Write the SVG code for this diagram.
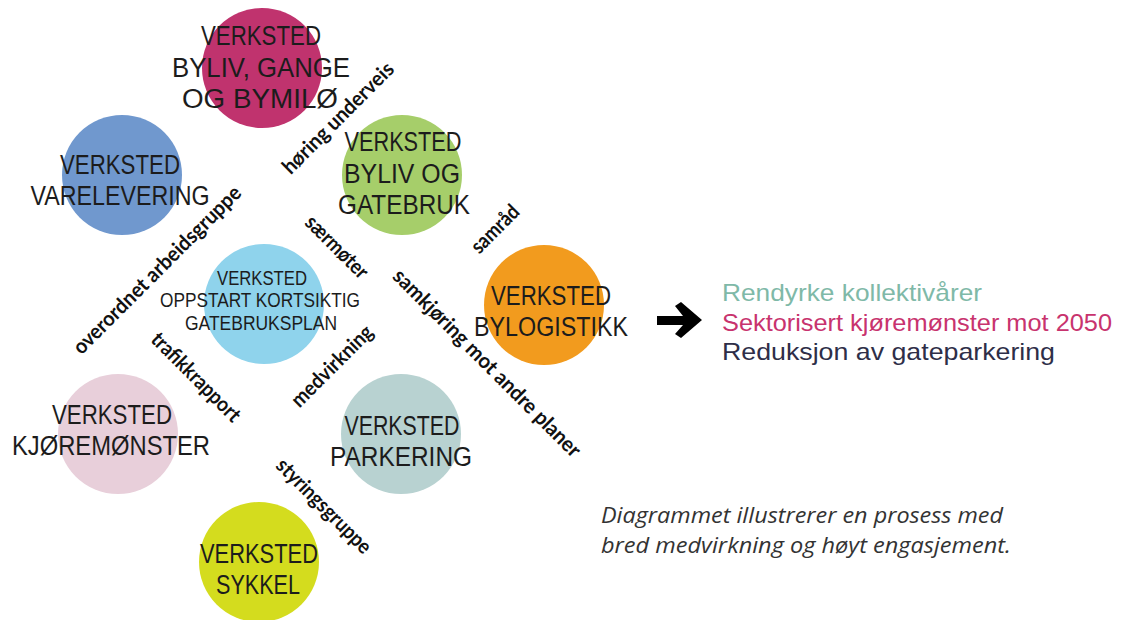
<svg xmlns="http://www.w3.org/2000/svg" width="1123" height="620" viewBox="0 0 1123 620">
<style>
.node-label{font-family:"Liberation Sans",Arial,sans-serif;font-size:27px;fill:#1c1c1c;text-anchor:middle}
.small{font-size:20px}
.link-label{font-family:Lato,"Liberation Sans",Arial,sans-serif;font-weight:bold;font-size:21px;fill:#111;text-anchor:middle}
.goal{font-family:"Liberation Sans",Arial,sans-serif;font-size:24px}
.note{font-family:"Open Sans","Liberation Sans",Arial,sans-serif;font-style:italic;font-size:21px;fill:#333}
</style>
<rect width="1123" height="620" fill="#ffffff"/>

<g id="node-byliv-gange">
<circle cx="262" cy="68" r="60" fill="#C0336E"/>
<text class="node-label" x="261" y="45" textLength="120" lengthAdjust="spacingAndGlyphs">VERKSTED</text>
<text class="node-label" x="261" y="77" textLength="178" lengthAdjust="spacingAndGlyphs">BYLIV, GANGE</text>
<text class="node-label" x="260" y="108" textLength="156" lengthAdjust="spacingAndGlyphs">OG BYMILØ</text>
</g>

<g id="node-varelevering">
<circle cx="122" cy="175" r="60" fill="#7098CE"/>
<text class="node-label" x="120" y="174" textLength="120" lengthAdjust="spacingAndGlyphs">VERKSTED</text>
<text class="node-label" x="120" y="205" textLength="179" lengthAdjust="spacingAndGlyphs">VARELEVERING</text>
</g>

<g id="node-byliv-gatebruk">
<circle cx="402" cy="175" r="60" fill="#A6CE6A"/>
<text class="node-label" x="403" y="151" textLength="117" lengthAdjust="spacingAndGlyphs">VERKSTED</text>
<text class="node-label" x="402" y="183" textLength="116" lengthAdjust="spacingAndGlyphs">BYLIV OG</text>
<text class="node-label" x="404" y="214" textLength="132" lengthAdjust="spacingAndGlyphs">GATEBRUK</text>
</g>

<g id="node-oppstart">
<circle cx="264" cy="304" r="60" fill="#8FD3EC"/>
<text class="node-label small" x="262" y="285" textLength="90" lengthAdjust="spacingAndGlyphs">VERKSTED</text>
<text class="node-label small" x="260" y="307" textLength="200" lengthAdjust="spacingAndGlyphs">OPPSTART KORTSIKTIG</text>
<text class="node-label small" x="261" y="330" textLength="152" lengthAdjust="spacingAndGlyphs">GATEBRUKSPLAN</text>
</g>

<g id="node-bylogistikk">
<circle cx="544" cy="305" r="60" fill="#F29B1E"/>
<text class="node-label" x="551" y="305" textLength="120" lengthAdjust="spacingAndGlyphs">VERKSTED</text>
<text class="node-label" x="551" y="336" textLength="154" lengthAdjust="spacingAndGlyphs">BYLOGISTIKK</text>
</g>

<g id="node-kjoremonster">
<circle cx="118" cy="434" r="60" fill="#E8CFDA"/>
<text class="node-label" x="112" y="424" textLength="120" lengthAdjust="spacingAndGlyphs">VERKSTED</text>
<text class="node-label" x="111" y="455" textLength="198" lengthAdjust="spacingAndGlyphs">KJØREMØNSTER</text>
</g>

<g id="node-parkering">
<circle cx="401" cy="434" r="60" fill="#B8D2D1"/>
<text class="node-label" x="402" y="435" textLength="115" lengthAdjust="spacingAndGlyphs">VERKSTED</text>
<text class="node-label" x="401" y="466" textLength="142" lengthAdjust="spacingAndGlyphs">PARKERING</text>
</g>

<g id="node-sykkel">
<circle cx="259" cy="562" r="60" fill="#D4DC1E"/>
<text class="node-label" x="259" y="563" textLength="118" lengthAdjust="spacingAndGlyphs">VERKSTED</text>
<text class="node-label" x="258" y="594" textLength="84" lengthAdjust="spacingAndGlyphs">SYKKEL</text>
</g>

<g id="connectors">
<text class="link-label" transform="translate(162,275) rotate(-45)" textLength="228" lengthAdjust="spacingAndGlyphs">overordnet arbeidsgruppe</text>
<text class="link-label" transform="translate(343,123) rotate(-45)" textLength="148" lengthAdjust="spacingAndGlyphs">høring underveis</text>
<text class="link-label" transform="translate(332,252) rotate(45)" textLength="80" lengthAdjust="spacingAndGlyphs">særmøter</text>
<text class="link-label" transform="translate(500,234) rotate(-45)" textLength="59" lengthAdjust="spacingAndGlyphs">samråd</text>
<text class="link-label" transform="translate(482,368) rotate(45)" textLength="256" lengthAdjust="spacingAndGlyphs">samkjøring mot andre planer</text>
<text class="link-label" transform="translate(337,371) rotate(-45)" textLength="106" lengthAdjust="spacingAndGlyphs">medvirkning</text>
<text class="link-label" transform="translate(191,382) rotate(45)" textLength="117" lengthAdjust="spacingAndGlyphs">trafikkrapport</text>
<text class="link-label" transform="translate(319,511) rotate(45)" textLength="125" lengthAdjust="spacingAndGlyphs">styringsgruppe</text>
<polygon points="657,316 683,316 675,306 681,302 702,320 681,338 675,334 683,325 657,325" fill="#000"/>
</g>

<g id="goals">
<text class="goal" x="722" y="301" fill="#7FB9A8" textLength="260" lengthAdjust="spacingAndGlyphs">Rendyrke kollektivårer</text>
<text class="goal" x="722" y="331" fill="#C8336E" textLength="390" lengthAdjust="spacingAndGlyphs">Sektorisert kjøremønster mot 2050</text>
<text class="goal" x="722" y="360" fill="#2E2E48" textLength="333" lengthAdjust="spacingAndGlyphs">Reduksjon av gateparkering</text>
</g>

<g id="note">
<text class="note" x="601" y="523" textLength="402" lengthAdjust="spacingAndGlyphs">Diagrammet illustrerer en prosess med</text>
<text class="note" x="601" y="553" textLength="410" lengthAdjust="spacingAndGlyphs">bred medvirkning og høyt engasjement.</text>
</g>
</svg>
